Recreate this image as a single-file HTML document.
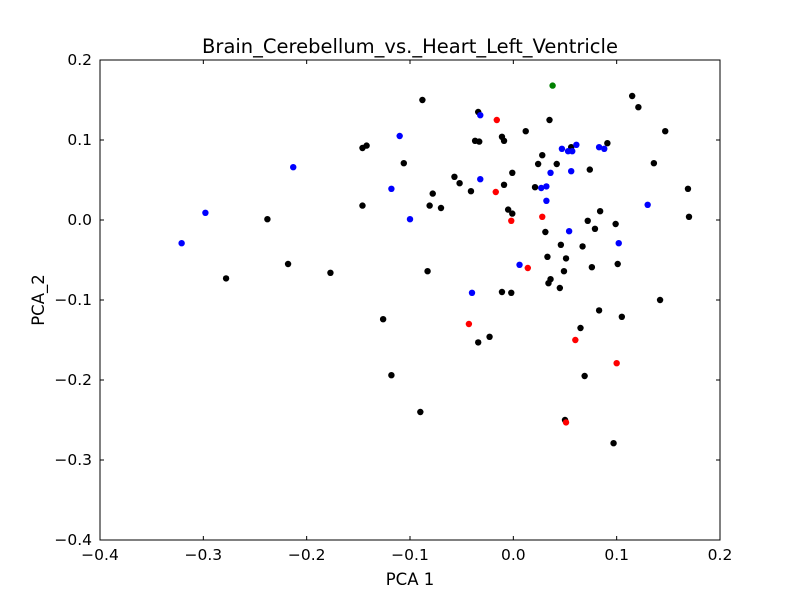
<!DOCTYPE html>
<html><head><meta charset="utf-8"><style>
body{margin:0;background:#fff;}
svg{display:block;font-family:"DejaVu Sans","Liberation Sans",sans-serif;}
</style></head><body>
<svg id="chart" width="800" height="600">
<rect x="0" y="0" width="800" height="600" fill="#fff"/>
<text x="410" y="53" font-size="19.5" text-anchor="middle">Brain_Cerebellum_vs._Heart_Left_Ventricle</text>
<g id="marks"></g>
<g id="axes"></g>
<rect x="100" y="60" width="620" height="480" fill="none" stroke="#000" stroke-width="1"/>
<text x="410" y="585" font-size="16.5" text-anchor="middle">PCA 1</text>
<text x="44" y="300" font-size="16.5" text-anchor="middle" transform="rotate(-90 44 300)">PCA_2</text>
</svg>
<script>
const xTicks=[-0.4,-0.3,-0.2,-0.1,0.0,0.1,0.2];
const yTicks=[-0.4,-0.3,-0.2,-0.1,0.0,0.1,0.2];
const blackX=[-0.088,-0.034,0.035,0.115,0.121,0.147,0.012,-0.011,-0.009,-0.037,-0.033,-0.146,-0.142,0.091,0.028,-0.106,0.024,0.042,0.136,0.056,-0.001,-0.057,-0.052,0.074,-0.009,0.021,-0.041,0.169,-0.078,-0.146,-0.081,-0.070,0.084,-0.005,-0.001,-0.238,0.170,0.072,0.099,0.031,0.079,0.067,0.046,0.033,0.051,-0.218,0.101,0.076,-0.177,-0.083,0.049,-0.278,0.036,0.034,0.045,-0.011,-0.002,0.142,0.083,0.105,-0.126,0.065,-0.023,-0.034,-0.118,0.069,-0.090,0.050,0.097];
const blackY=[0.150,0.135,0.125,0.155,0.141,0.111,0.111,0.104,0.099,0.099,0.098,0.090,0.093,0.096,0.081,0.071,0.070,0.070,0.071,0.091,0.059,0.054,0.046,0.063,0.044,0.041,0.036,0.039,0.033,0.018,0.018,0.015,0.011,0.013,0.008,0.001,0.004,-0.001,-0.005,-0.015,-0.011,-0.033,-0.031,-0.046,-0.048,-0.055,-0.055,-0.059,-0.066,-0.064,-0.064,-0.073,-0.074,-0.079,-0.085,-0.090,-0.091,-0.100,-0.113,-0.121,-0.124,-0.135,-0.146,-0.153,-0.194,-0.195,-0.240,-0.250,-0.279];
const blueX=[-0.321,-0.298,-0.213,-0.110,-0.118,-0.100,-0.032,-0.032,-0.040,0.006,0.032,0.027,0.032,0.036,0.047,0.053,0.057,0.061,0.056,0.054,0.083,0.088,0.102,0.130];
const blueY=[-0.029,0.009,0.066,0.105,0.039,0.001,0.131,0.051,-0.091,-0.056,0.042,0.040,0.024,0.059,0.089,0.086,0.086,0.094,0.061,-0.014,0.091,0.089,-0.029,0.019];
const redX=[-0.016,-0.017,-0.002,0.028,0.014,-0.043,0.060,0.100,0.051];
const redY=[0.125,0.035,-0.001,0.004,-0.060,-0.130,-0.150,-0.179,-0.253];
const greenX=[0.038];
const greenY=[0.168];

const NS="http://www.w3.org/2000/svg";
const L=100,R=720,T=60,B=540;
function sx(v){return L+(v-(-0.4))/(0.6)*(R-L);}
function sy(v){return B-(v-(-0.4))/(0.6)*(B-T);}
const marks=document.getElementById('marks');
const axes=document.getElementById('axes');
function series(xs,ys,color,name){
  for(let i=0;i<xs.length;i++){
    const c=document.createElementNS(NS,'circle');
    c.setAttribute('cx',sx(xs[i]));c.setAttribute('cy',sy(ys[i]));
    c.setAttribute('r',3.2);c.setAttribute('fill',color);
    
    
    marks.appendChild(c);
  }
}
series(blackX,blackY,'#000','point-black');
series(blueX,blueY,'#0000ff','point-blue');
series(redX,redY,'#ff0000','point-red');
series(greenX,greenY,'#008000','point-green');
function line(x1,y1,x2,y2){
  const l=document.createElementNS(NS,'line');
  l.setAttribute('x1',x1);l.setAttribute('y1',y1);l.setAttribute('x2',x2);l.setAttribute('y2',y2);
  l.setAttribute('stroke','#000');l.setAttribute('stroke-width','1');
  
  
  axes.appendChild(l);
}
function label(x,y,txt,anchor,name){
  const t=document.createElementNS(NS,'text');
  t.setAttribute('x',x);t.setAttribute('y',y);t.setAttribute('font-size','15.5');
  t.setAttribute('text-anchor',anchor);t.textContent=txt;
  
  
  axes.appendChild(t);
}
function fmt(v){const s=Math.abs(v).toFixed(1);return (v<-1e-9?'\u2212':'')+s;}
xTicks.forEach(v=>{const x=sx(v);line(x,B,x,B-4);line(x,T,x,T+4);label(x,B+20,fmt(v),'middle','x-tick-label');});
yTicks.forEach(v=>{const y=sy(v);line(L,y,L+4,y);line(R,y,R-4,y);label(L-8,y+5,fmt(v),'end','y-tick-label');});
</script>
</body></html>
